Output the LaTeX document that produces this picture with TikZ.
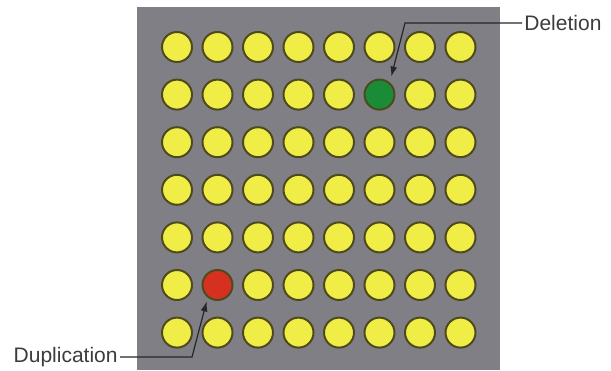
\documentclass[tikz,border=0pt]{standalone}
\usepackage{fontspec}
\setmainfont{Liberation Sans}
\usetikzlibrary{arrows.meta}
\definecolor{boardgray}{RGB}{128,127,134}
\definecolor{spotyellow}{RGB}{240,238,70}
\definecolor{spotring}{RGB}{78,74,30}
\definecolor{delgreen}{RGB}{26,140,56}
\definecolor{dupred}{RGB}{214,48,32}
\definecolor{labelgray}{RGB}{60,60,60}
\begin{document}
\begin{tikzpicture}[x=0.5pt, y=-0.5pt,
    spot/.style={circle, draw=spotring, line width=1pt, fill=spotyellow, minimum size=15pt, inner sep=0pt},
    callout/.style={text=labelgray, font=\fontsize{10.5}{12}\selectfont, inner sep=1pt},
    pointer/.style={draw=black!85, line width=0.6pt, -{Latex[length=5pt,width=3.5pt]}}]
    \useasboundingbox (0,0) rectangle (611,370);
    \fill[boardgray] (137,7) rectangle (500,370);

    % 7 x 8 grid of spots
    \foreach \r in {1,...,7}
      \foreach \c in {1,...,8}{
        \def\spotfill{spotyellow}
        \ifnum\r\c=26 \def\spotfill{delgreen}\fi
        \ifnum\r\c=62 \def\spotfill{dupred}\fi
        \node[spot, fill=\spotfill] (c-\r-\c) at ({177+40.5*(\c-1)},{47+47.6*(\r-1)}) {};
      }

    % labels
    \node[callout, anchor=west] (deletion) at (522,23) {Deletion};
    \node[callout, anchor=east] (duplication) at (120,357) {Duplication};

    \coordinate (delbend) at (405,23);
    \coordinate (dupbend) at (192,357);
    \draw[pointer, shorten >=3pt] (deletion.west) -- (delbend) -- (c-2-6.50);
    \draw[pointer, shorten >=2pt] (duplication.east) -- (dupbend) -- (c-6-2.232);
\end{tikzpicture}
\end{document}
